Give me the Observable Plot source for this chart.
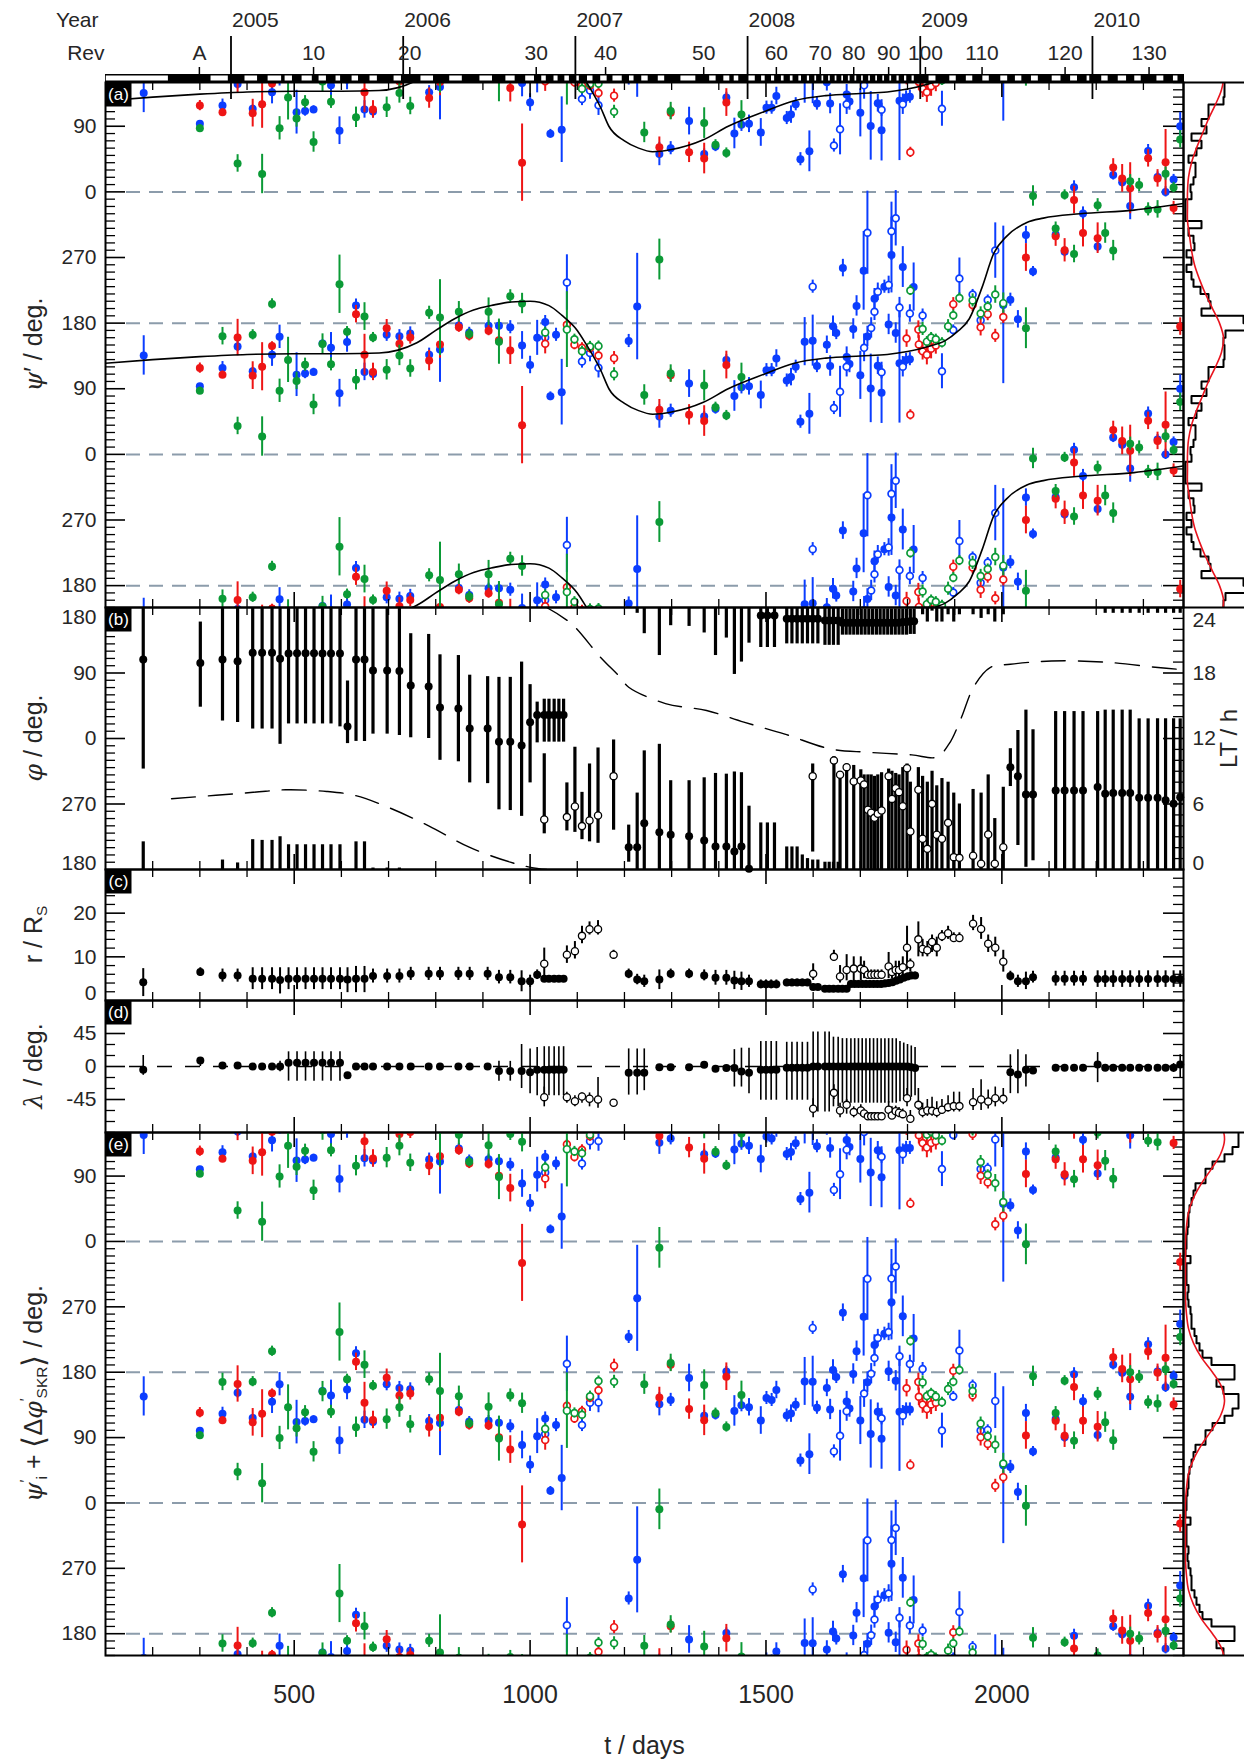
<!DOCTYPE html>
<html><head><meta charset="utf-8">
<script src="https://cdn.jsdelivr.net/npm/d3@7"></script>
<script src="https://cdn.jsdelivr.net/npm/@observablehq/plot@0.6"></script>
<style>
html,body{margin:0;padding:0;background:#fff;}
#root{position:relative;width:1244px;height:1762px;overflow:hidden;background:#fff;}
</style></head><body><div id="root"></div>
<script>
// ======================= DATA =======================
// top axis
const yearDays = [366, 731, 1096, 1461, 1827, 2192];
const yearLabels = ["2005", "2006", "2007", "2008", "2009", "2010"];
const revDays = [299, 541, 745, 1013, 1160, 1368, 1522, 1615, 1686, 1760, 1838, 1958, 2134, 2312];
const revLabels = ["A", "10", "20", "30", "40", "50", "60", "70", "80", "90", "100", "110", "120", "130"];
// white boxes of the orbit bar [start day, end day]
const orbitBoxes = [[100,235],[322,362],[394,424],[443,475],[479,498],[515,540],[551,570],[587,600],[621,638],[659,678],[710,729],[767,797],[828,858],[892,922],[947,970],[989,1011],[1023,1036],[1049,1061],[1072,1085],[1097,1106],[1120,1135],[1148,1165],[1174,1197],[1209,1222],[1235,1252],[1270,1287],[1318,1353],[1379,1396],[1409,1425],[1431,1444],[1461,1479],[1489,1500],[1510,1520],[1531,1540],[1550,1559],[1568,1577],[1586,1594],[1602,1609],[1617,1624],[1631,1638],[1645,1652],[1659,1666],[1673,1680],[1687,1694],[1701,1708],[1716,1723],[1731,1738],[1746,1753],[1761,1768],[1776,1784],[1792,1800],[1808,1816],[1844,1862],[1888,1905],[1923,1940],[1958,1975],[1996,2014],[2027,2044],[2061,2079],[2105,2127],[2144,2162],[2179,2188],[2210,2227],[2245,2266],[2280,2297],[2327,2345],[2362,2375]];

// panel (a)/(e): [day, psi' (deg), error half-width, psi'_i + <dphi'_SKR> (deg)]
const redFilled = [[300,118.3,7,124.3],[348,109.3,5,113.8],[380,160.2,25,163.8],[412,108,19,111],[432,120.2,33,122.9],[453,148.5,6,151],[631,192.3,12,194.3],[649,136.7,28,138.1],[667,113.1,12,114.3],[696,173,12,172.4],[723,151.8,12,148],[746,160.2,9,150.7],[786,128.7,14,104.7],[809,150.8,19,117.2],[849,174.4,7,125.7],[871,162.6,7,107.3],[912,169.7,7,106.7],[934,156.5,9,90.5],[958,142.3,19,73.5],[983,40.1,53,330.5],[1274,61.3,14,145.3],[1298,108.4,9,190.4],[1337,54.2,14,129.2],[1369,45.7,21,113.7],[1416,122.5,19,173.8],[2051,270,19,93],[2114,299.3,14,113.3],[2133,279.9,16,92.4],[2153,348.8,19,159.8],[2172,303.5,19,113.2],[2203,296.5,21,104.9],[2236,33.5,12,200.5],[2255,18.5,19,184.5],[2272,5,35,170.4],[2310,46,12,208.5],[2330,18.5,12,179.2],[2347,40.6,45,199.8],[2364,338,9,135.7],[2378,175.3,12,331.8]];
const redOpen = [[1032,151.8,14,86.6],[1078,177.7,7,133.7],[1094,150.4,7,116.4],[1110,146.1,7,126.1],[1127,146,7,145],[1145,135.7,7,155.1],[1178,132,9,189],[1798,158.8,12,158],[1806,54.2,7,52.4],[1823,171.1,12,166.5],[1824,150.8,12,146.2],[1832,141.4,12,135.4],[1841,136.7,14,129.2],[1850,145,14,135.7],[1860,149.4,12,137.9],[1897,206,9,182],[1938,205,9,148],[1955,174.4,12,90.4],[1970,192.3,9,81.3],[1986,162.6,9,23.6],[2003,188.5,9,35.5]];
const greenFilled = [[300,87.2,5,93.2],[348,162.1,12,166.6],[380,39,12,42.6],[412,164,7,167],[432,24.5,27,27.2],[453,206.4,7,208.9],[469,87.2,16,89.5],[487,129.6,31,131.6],[505,100.8,12,102.8],[523,123,9,125],[541,68.4,14,70.4],[560,151.3,14,153.3],[578,123.5,9,125.5],[596,233.3,40,235.3],[612,168.3,7,170.3],[631,102.3,14,104.3],[649,189,19,190.4],[667,160.2,7,161.4],[696,116,14,115.4],[723,135.7,14,131.9],[746,117.8,12,108.3],[786,194.2,9,170.2],[809,187.6,52,154],[849,195.6,14,146.9],[871,165,7,109.7],[912,195.6,19,132.6],[934,154.6,31,88.6],[958,216.8,9,148],[983,206.9,14,137.3],[1242,81.5,14,163.5],[1274,267.2,28,351.2],[1298,110.8,12,192.8],[1369,94.3,21,162.3],[1393,64.6,7,123.6],[1416,53.3,7,104.6],[1448,106.1,19,148.7],[2051,173,28,356],[2066,354.4,14,174.4],[2114,309.7,9,123.7],[2133,355.8,7,168.3],[2153,274.8,12,85.8],[2203,341.7,9,150.1],[2219,303.5,14,111.2],[2236,279.5,14,86.5],[2272,14.7,9,180.1],[2291,9.5,9,173.5],[2310,336,9,138.5],[2330,336,12,136.7],[2347,25,9,184.2],[2364,6,7,163.7],[2378,72,12,228.5]];
const greenOpen = [[1032,167.3,7,102.1],[1078,171.1,52,127.1],[1094,157.9,7,123.9],[1110,141.4,7,121.4],[1127,148,7,147],[1145,148.5,7,167.9],[1178,109.8,9,166.8],[1806,224.8,7,223],[1832,172,9,166],[1841,154.6,7,147.1],[1850,160.2,7,150.9],[1860,157.9,7,146.4],[1873,153,7,138.6],[1886,175.8,9,156.8],[1897,190.9,7,166.9],[1910,214.4,7,182.9],[1938,211.2,9,154.2],[1955,193.3,9,109.3],[1970,202.7,7,91.7],[1986,219.2,12,80.2],[2003,207.4,14,54.4]];
const blueFilled = [[181,135.7,27,146.7],[300,93.3,4,99.3],[348,118.3,9,122.8],[380,148,7,151.6],[412,114,5,117],[453,136.7,16,139.2],[469,161.2,16,163.5],[505,109.3,30,111.3],[523,110.8,7,112.8],[541,113.1,5,115.1],[560,152,5,154],[578,146.1,21,148.1],[596,83.9,19,85.9],[612,154.1,14,156.1],[631,204.1,9,206.1],[649,113.1,12,114.5],[667,110.3,9,111.5],[696,164,9,163.4],[723,162.1,9,158.3],[746,165.9,9,156.4],[786,136.7,9,112.7],[809,143.8,45,110.2],[849,176.7,7,128],[871,167.3,7,112],[912,176.3,7,113.3],[934,176.3,7,110.3],[958,174.4,9,105.6],[983,149.4,19,79.8],[1000,122.6,12,52.6],[1015,159.8,24,92],[1032,181.5,9,116.3],[1043,79.7,6,16.7],[1055,164,9,107.2],[1067,85.3,45,34.3],[1209,155.5,9,228.5],[1227,202.7,73,281.7],[1274,51.9,16,135.9],[1298,59.9,9,141.9],[1337,97.1,19,172.1],[1369,51.9,7,119.9],[1393,62.2,7,121.2],[1416,129.6,7,180.9],[1433,80.1,21,126.7],[1448,91.9,9,134.5],[1464,93.3,12,131.7],[1489,81.5,19,113.5],[1501,115.5,9,144.5],[1512,115.5,9,141.8],[1522,131.5,12,155.5],[1544,101.3,9,120.3],[1553,106,12,123],[1563,120.2,9,135.2],[1573,44.8,9,58.4],[1582,154.6,33,167.3],[1592,55.6,28,67.2],[1599,156,35,167],[1608,121.1,9,131.1],[1629,150.3,12,158.3],[1636,121.1,14,128.7],[1642,175.8,14,183.2],[1649,166.4,9,173.4],[1663,255.5,12,262],[1671,133.4,14,139.6],[1677,124,12,130],[1685,172,14,177.6],[1692,203.6,14,208.9],[1700,108.4,33,113.4],[1707,251.7,54,256.2],[1715,161.7,14,166.2],[1722,90.5,47,95],[1730,213.5,14,217.5],[1737,121.6,12,125.6],[1745,84.4,42,88.4],[1751,230,9,233],[1760,178.2,14,181.2],[1766,273.4,52,276.4],[1775,166.4,14,168.2],[1783,124.9,82,125.5],[1790,256.9,28,256.9],[1797,129.6,9,128.8],[1805,130.6,9,128.8],[1813,229.5,33,226.5],[2003,205,108,52],[2018,212.1,9,49.6],[2034,185.2,12,15.2],[2051,300.7,12,123.7],[2066,250.7,7,70.7],[2114,301.6,7,115.6],[2133,278,7,90.5],[2153,6.2,9,177.2],[2172,330.4,9,140.1],[2203,285,7,93.4],[2236,23.2,7,190.2],[2255,13.3,7,179.3],[2272,340.8,19,146.2],[2310,56,9,218.5],[2330,20.3,7,181],[2347,0,7,159.2],[2364,17,7,174.7],[2378,90,19,246.5]];
const blueOpen = [[1032,160.2,12,95],[1078,235.7,38,191.7],[1110,127.3,9,107.3],[1127,139,12,138],[1145,118.8,14,138.2],[1599,230,9,241],[1644,63.6,9,71],[1657,85.8,35,92.6],[1671,120.2,14,126.4],[1708,146.1,19,150.6],[1715,304,57,308.5],[1723,173.4,14,177.9],[1730,195.6,12,199.6],[1737,223,12,227],[1745,112.6,9,116.6],[1760,232.4,12,235.4],[1766,305.9,40,308.9],[1775,323.8,38,325.6],[1783,201.3,14,201.9],[1790,120.2,14,120.2],[1805,193.2,12,191.4],[1832,190.4,9,184.4],[1873,114,24,99.6],[1897,170.6,7,146.6],[1910,241.3,28,209.8],[1938,219.2,7,162.2],[1955,183.8,9,99.8],[1970,211.6,7,100.6],[1986,279.5,38,140.5]];

// model curve of panel (a)
const modelDay = [100,200,300,400,500,600,680,720,760,800,840,880,924,960,1000,1040,1067,1100,1117,1150,1167,1200,1230,1260,1300,1366,1420,1496,1560,1627,1700,1757,1800,1844,1880,1905,1931,1958,1983,2010,2053,2088,2166,2280,2384];
const modelPsi = [125,130,134,137,138,138,139,143,153,170,186,198,205,209,210,204,191,170,153,115,90,70,60,55,58,71,90,110,125,132,135,137,141,148,156,168,186,229,276,299,318,324,330,335,344];

// histograms (10 deg bins starting at 0,10,...,350) and fitted curves (sampled every 20 deg)
const histA = [7,10,12,12,5,13,18,8,23,18,25,25,40,41,41,40,42,62,60,18,27,25,17,10,8,3,8,3,11,10,5,18,2,2,2,8];
const histE = [3,4,5,5,6,8,10,12,22,22,29,41,49,55,55,40,33,51,51,28,19,16,13,11,8,8,7,5,4,5,3,3,3,7,2,3];
const fitPsi = [0,20,40,60,80,100,120,140,160,180,200,220,240,260,280,300,320,340];
const fitA = [4,5,8,13,19,25,32,38,40,36,29,22,16,11,8,6,4,4];
const fitE = [2,3,5,10,18,28,37,41,38,29,18,10,5,3,2,2,2,2];

// panel (b): [day, phi, lower end, upper end]
const phiFilled = [[180,108.6,-42,218],[301,103.7,43,160],[348,108.6,24,193],[380,106.3,22,189],[412,117.7,13,221],[432,117.7,13,220],[453,117.7,13,220],[470,109.6,-8,225],[488,116.8,20,214],[506,117,20,214],[524,117,20,214],[542,117,20,214],[560,116.8,20,214],[578,116.8,20,214],[597,116.8,16,214],[613,16.6,-7,79],[631,108.6,-4,218],[649,108.6,-4,218],[667,93.5,6,182],[697,93.5,6,182],[723,92.6,4,182],[747,72.9,1,144],[785,71.5,0,143],[809,42.6,-30,115],[848,41.2,-32,114],[872,13.8,-61,87],[910,13.8,-62,85],[934,-4.5,-98,84],[958,-4.5,-99,84],[982,-9.6,-107,105],[1000,22.2,-61,74],[1015,32.2,-6,50],[1030,32.2,-5,54],[1040,32.2,-5,54],[1051,32.2,-5,54],[1061,32.2,-5,54],[1071,32.2,-5,54],[1209,-149.3,-170,-119],[1227,-149.3,-188,-75],[1242,-116.3,-216,-17],[1274,-128.7,-246,-8],[1298,-132.3,-205,-58],[1337,-134.2,-206,-58],[1369,-140,-215,-54],[1393,-148.4,-246,-48],[1416,-148.4,-222,-49],[1433,-155.2,-272,-46],[1448,-148.4,-255,-47],[1464,-179,-229,-93],[1489,169,125,244],[1503,169,125,244],[1518,169,125,244],[1544,164.4,130,211],[1555,164.4,130,211],[1566,164.4,130,211],[1577,164.4,130,200],[1588,164.4,130,195],[1599,164.4,130,193],[1610,164.4,130,193],[1625,162,128,190],[1634,162,128,190],[1643,162,128,190],[1653,162,128,190],[1662,159,142,178],[1670,159,142,178],[1678,159,142,178],[1686,159,142,178],[1694,159,142,178],[1702,159,142,178],[1710,159,142,178],[1718,159,142,178],[1726,159,142,178],[1734,159,142,178],[1742,159,142,178],[1750,159,142,178],[1758,159,142,178],[1766,159,142,178],[1774,159,142,178],[1782,159,142,178],[1790,160,142,178],[1798,160,142,178],[1806,161,143,178],[1814,161,143,178],[2018,-39.4,-66,-14],[2034,-51.7,-147,11],[2051,-77,-177,39],[2066,-77,-168,12],[2114,-71.4,-180,37],[2133,-71.4,-180,37],[2153,-71.4,-180,37],[2172,-71.4,-180,37],[2203,-66.8,-180,37],[2219,-76,-188,39],[2236,-75,-188,39],[2255,-75,-188,39],[2272,-75,-188,39],[2291,-81.5,-188,27],[2310,-81.5,-188,27],[2330,-81.5,-188,27],[2347,-85,-188,27],[2364,-89.8,-188,27],[2378,-80.6,-188,27]];
const phiOpen = [[1030,-111.3,-131,-21],[1078,-108,-127,-61],[1095,-93.4,-129,-12],[1110,-120.4,-139,-74],[1126,-112.7,-142,-35],[1144,-105.8,-144,-13],[1177,-51.7,-126,-2],[1599,-51.7,-156,-35],[1644,-30.2,-180,-25],[1657,-49.9,-180,-46],[1671,-39.4,-180,-35],[1686,-59,-180,-37],[1701,-57.7,-180,-43],[1708,-63.2,-180,-50],[1716,-98,-180,-50],[1723,-102,-180,-50],[1730,-109,-180,-52],[1737,-103.5,-180,-50],[1745,-99,-180,-47],[1760,-51.7,-180,-42],[1767,-83,-180,-45],[1775,-68.2,-180,-48],[1782,-73.7,-180,-50],[1790,-93,-180,-40],[1799,-40.8,-180,-35],[1806,-127.8,-180,-60],[1823,-70.5,-180,-40],[1832,-137.8,-190,-52],[1842,-151.6,-200,-60],[1852,-89.8,-185,-45],[1862,-132.3,-200,-65],[1873,-137.8,-200,-55],[1886,-115.9,-190,-60],[1898,-163,-200,-75],[1910,-164,-190,-90],[1939,-161,-190,-70],[1956,-172,-195,-75],[1971,-131.9,-190,-50],[1985,-172,-200,-110],[2003,-149.3,-190,-67]];
// spacecraft local time track (hours)
const ltEarlyDay = [240,413,482,569,629,699,785,871,958,1001,1035];
const ltEarly = [6.48,7.07,7.3,7.15,6.78,5.7,4.0,2.04,0.67,0.2,0];
const ltLateDay = [1035,1088,1148,1191,1209,1287,1374,1453,1540,1636,1714,1809,1862,1888,1914,1940,1975,2018,2105,2218,2331,2384];
const ltLate = [24,22.5,19.5,17.6,16.7,15.2,14.56,13.5,12.4,11.05,10.74,10.5,10.3,11.5,13.9,16.7,18.5,18.8,19.1,19.0,18.5,18.3];

// panel (c): [day, r (R_S), lower, upper]
const rFilled = [[180,4.2,0.9,7.3],[301,6.5,5.5,7.5],[348,5.7,4.2,7.2],[380,5.7,4.2,7.2],[412,5,2.5,7.5],[432,5,2.5,7.5],[453,5,2.5,7.5],[470,4.7,1.5,7.5],[488,5,2.5,7.5],[506,5,2.5,7.5],[524,5,2.5,7.5],[542,5,2.5,7.5],[560,5,2.5,7.5],[578,5,2.5,7.5],[597,5,2.5,7.5],[613,4.8,1.8,7.5],[631,5,1.8,7.8],[649,5,1.8,7.8],[667,5.6,4,7.2],[697,5.6,4,7.2],[723,5.6,4,7.2],[747,6.1,4.6,7.6],[785,6.1,4.6,7.6],[809,6.1,4.6,7.6],[848,6.1,4.6,7.6],[872,6.1,4.6,7.6],[910,6.1,4.6,7.6],[934,5.3,3.8,6.9],[958,5.3,3.8,6.9],[982,4.4,2,6.8],[1000,4.4,3,5.8],[1015,5.9,4.8,7],[1030,5,4.5,5.5],[1040,5,4.5,5.5],[1051,5,4.5,5.5],[1061,5,4.5,5.5],[1071,5,4.5,5.5],[1209,6.1,5,7.2],[1227,4.8,3.6,6],[1242,4.4,3,5.8],[1274,4.8,2.5,7],[1298,6.1,5,7.2],[1337,6.1,5,7.2],[1369,5.7,4.5,7],[1393,5.2,3.5,6.9],[1416,5.2,3.5,6.9],[1433,4.6,2.5,6.7],[1448,4.4,2.3,6.5],[1464,4.4,3,5.8],[1489,3.7,2.7,4.7],[1500,3.7,2.7,4.7],[1511,3.7,2.7,4.7],[1522,3.7,2.7,4.7],[1544,4.1,3.3,4.9],[1555,4.1,3.3,4.9],[1566,4.1,3.3,4.9],[1577,4.1,3.3,4.9],[1588,4.1,3.3,4.9],[1600,3.1,2.5,3.7],[1610,3.1,2.5,3.7],[1625,2.7,2.2,3.2],[1634,2.7,2.2,3.2],[1643,2.7,2.2,3.2],[1653,2.7,2.2,3.2],[1662,2.7,2.2,3.2],[1671,2.7,2.2,3.2],[1680,3.8,3,4.6],[1688,3.8,3,4.6],[1696,3.8,3,4.6],[1704,3.8,3,4.6],[1712,3.8,3,4.6],[1720,3.8,3,4.6],[1728,3.8,3,4.6],[1736,3.8,3,4.6],[1744,3.8,3,4.6],[1752,3.9,3.1,4.7],[1760,4,3.2,4.8],[1768,4.2,3.4,5],[1776,4.5,3.7,5.3],[1784,4.8,4,5.6],[1792,5.2,4.4,6],[1800,5.5,4.7,6.3],[1808,5.7,4.9,6.5],[1816,5.7,4.9,6.5],[2018,5.6,4.5,6.7],[2034,4.4,3,5.8],[2051,4.4,2.5,6.5],[2066,5.3,4,6.7],[2114,5,3.3,6.7],[2133,5,3.3,6.7],[2153,5,3.3,6.7],[2172,5,3.3,6.7],[2203,4.9,3,6.8],[2219,4.9,3,6.8],[2236,4.9,3,6.8],[2255,4.9,3,6.8],[2272,4.9,3,6.8],[2291,4.9,3,6.8],[2310,4.9,3,6.8],[2330,4.9,3,6.8],[2347,4.9,3,6.8],[2364,4.9,3,6.8],[2378,4.9,3,6.8]];
const rOpen = [[1030,8.4,5,12],[1078,10.5,8.5,12.5],[1095,11.3,9.5,13.5],[1110,14.8,13,17],[1126,16.3,15,18],[1144,16.3,15,18.3],[1177,10.5,9.5,11.5],[1600,6.1,4.6,8.4],[1644,10,9,11.5],[1657,5.5,4,8],[1671,7,4.5,10.5],[1686,7.3,4,10],[1701,7.3,4.5,10],[1708,7,5,9],[1716,5.9,5,7],[1723,5.9,5,7],[1730,5.9,5,7],[1737,5.9,5,7],[1745,5.9,5,7],[1760,7.8,5,11],[1767,6.5,5,8],[1775,7,5,9],[1782,7,5,9],[1790,7.6,5,10],[1799,12.1,7,17],[1806,8.3,6.5,9.5],[1823,14,10,18],[1832,11.8,10,14],[1842,11.5,10,13.5],[1852,13.4,11,15],[1862,12.1,10,14.5],[1873,14.7,13.5,16],[1886,15.4,14,17],[1898,14.3,13.5,15.5],[1910,14.3,13.5,15.5],[1939,17.6,16,19.5],[1956,16.4,14,19],[1971,13,11,15],[1986,12.1,10,14.5],[2003,8.9,6.5,11.5]];

// panel (d): [day, lambda (deg), lower, upper]
const latFilled = [[180,-4.5,-12,15],[301,8.2,0,9],[348,1.4,-1,3],[380,1.4,-1,3],[412,0,-2,2],[432,0,-2,2],[453,0,-2,2],[470,0,-7,7],[488,5,-20,20],[506,5,-20,20],[524,5,-20,20],[542,5,-20,20],[560,5,-20,20],[578,5,-20,20],[597,5,-20,20],[613,-12,-14,-10],[631,0,-2,2],[649,0,-2,2],[667,0,-2,2],[697,0,-2,2],[723,0,-2,2],[747,0,-2,2],[785,0,-2,2],[809,0,-2,2],[848,0,-2,2],[872,0,-2,2],[910,0,-2,2],[934,-6.3,-20,7],[958,-6.3,-20,7],[982,-6.3,-30,30],[1000,-7.7,-37,24],[1015,-4.5,-40,26],[1030,-4.5,-40,27],[1040,-4.5,-40,27],[1051,-4.5,-40,27],[1061,-4.5,-40,27],[1071,-4.5,-40,27],[1209,-8.6,-39,24],[1227,-8.6,-39,24],[1242,-8.6,-33,24],[1274,-0.9,-2,1],[1298,-0.9,-2,1],[1337,-0.9,-2,1],[1369,2.3,0,4],[1393,-3.2,-5,-1],[1416,-2,-4,0],[1433,-2,-28,23],[1448,-6.8,-28,25],[1464,-8.6,-37,25],[1489,-4.5,-46,34],[1500,-4.5,-46,34],[1511,-4.5,-46,34],[1522,-4.5,-46,34],[1544,-1.8,-46,33],[1555,-1.8,-46,33],[1566,-1.8,-46,33],[1577,-1.8,-46,33],[1588,-1.8,-46,33],[1600,0,-62,47],[1610,0,-62,47],[1625,0,-62,47],[1634,0,-62,47],[1643,0,-55,40],[1653,0,-55,40],[1662,0,-50,38],[1671,0,-50,38],[1680,0,-50,38],[1688,0,-50,38],[1696,0,-50,38],[1704,0,-50,38],[1712,0,-50,38],[1720,0,-50,38],[1728,0,-50,38],[1736,0,-50,38],[1744,0,-50,38],[1752,0,-50,38],[1760,0,-50,38],[1768,0,-50,38],[1776,0,-50,38],[1784,0,-48,34],[1792,0,-46,32],[1800,0,-44,30],[1808,-1,-42,28],[1816,-2,-40,26],[2018,-7.7,-37,16],[2034,-10.9,-37,23],[2051,-4.5,-28,16],[2066,-5.4,-10,0],[2114,-1.8,-4,1],[2133,-1.8,-4,1],[2153,-1.8,-4,1],[2172,-1.8,-4,1],[2203,2.7,-22,19],[2219,-1.8,-4,1],[2236,-1.8,-4,1],[2255,-1.8,-4,1],[2272,-1.8,-4,1],[2291,-1.8,-4,1],[2310,-1.8,-4,1],[2330,-1.8,-4,1],[2347,-1.8,-4,1],[2364,-1.8,-8,4],[2378,2.7,-16,16]];
const latOpen = [[1030,-41.8,-55,-28],[1078,-41.8,-50,-35],[1095,-47.3,-55,-40],[1110,-41,-50,-36],[1126,-44,-55,-36],[1144,-45,-57,-15],[1177,-49.5,-53,-45],[1600,-57.7,-70,-44],[1644,-35.9,-45,-25],[1657,-60,-70,-50],[1671,-52.3,-65,-45],[1686,-62.2,-70,-55],[1701,-60,-68,-52],[1708,-64,-70,-58],[1716,-68,-73,-63],[1723,-68,-73,-63],[1730,-68,-73,-63],[1737,-68,-73,-63],[1745,-68,-73,-63],[1760,-59,-70,-48],[1767,-66.8,-72,-55],[1775,-61,-68,-54],[1782,-63,-70,-56],[1790,-65,-71,-58],[1799,-43.2,-55,-30],[1806,-71.3,-75,-60],[1823,-52.3,-60,-30],[1832,-62.2,-70,-50],[1842,-60,-68,-45],[1852,-60.5,-68,-42],[1862,-62,-70,-48],[1873,-59,-65,-45],[1886,-55.4,-62,-40],[1898,-54,-62,-35],[1910,-54,-62,-35],[1939,-48.6,-60,-30],[1956,-45,-60,-18],[1971,-47.7,-58,-32],[1986,-43.2,-55,-28],[2003,-44.1,-52,-30]];

// axis tick values
const xMinor = [200,300,400,600,700,800,900,1100,1200,1300,1400,1600,1700,1800,1900,2100,2200,2300];
const xMajor = [500, 1000, 1500, 2000];

// ======================= LAYOUT / STYLE =======================
const root = document.getElementById("root");
const FONT = "'Liberation Sans', Arial, Helvetica, sans-serif";
const W = 1244, X0 = 105, X1 = 1183, FW = X1 - X0;
const XD = [100, 2385];
const COL = {r: "#ee1515", g: "#0b9a36", b: "#0b3dff"};
const INK = "#000", TXT = "#262626", GRID = "#8c9cab";
const PSI_D = [-570, 150];
const wrapShifts = [0, -360, -720];

function place(svg, left, top) {
  svg.style.position = "absolute";
  svg.style.left = left + "px";
  svg.style.top = top + "px";
  svg.style.maxWidth = "none";
  root.appendChild(svg);
  return svg;
}
function panel({top, bottom, mt = 0, mb = 0, yDomain, marks}) {
  const h = bottom - top;
  const svg = Plot.plot({
    width: W, height: h + mt + mb, marginLeft: X0, marginRight: W - X1, marginTop: mt, marginBottom: mb,
    x: {domain: XD, axis: null}, y: {domain: yDomain, axis: null},
    style: {overflow: "visible", background: "transparent", fontFamily: FONT},
    marks
  });
  return place(svg, 0, top - mt);
}
function xTicks(h) {
  return [
    Plot.ruleX(xMinor, {insetBottom: h - 8, stroke: INK, strokeWidth: 1.3}),
    Plot.ruleX(xMinor, {insetTop: h - 8, stroke: INK, strokeWidth: 1.3}),
    Plot.ruleX(xMajor, {insetBottom: h - 15, stroke: INK, strokeWidth: 1.6}),
    Plot.ruleX(xMajor, {insetTop: h - 15, stroke: INK, strokeWidth: 1.6})
  ];
}
function yTicks(minorL, majorL, minorR, majorR) {
  return [
    Plot.ruleY(minorL, {insetRight: FW - 10, stroke: INK, strokeWidth: 1.3}),
    Plot.ruleY(majorL, {insetRight: FW - 20, stroke: INK, strokeWidth: 1.6}),
    Plot.ruleY(minorR, {insetLeft: FW - 10, stroke: INK, strokeWidth: 1.3}),
    Plot.ruleY(majorR, {insetLeft: FW - 20, stroke: INK, strokeWidth: 1.6})
  ];
}
function tag(label, h) {
  return [
    Plot.frame({fill: INK, stroke: "none", insetRight: FW - 26, insetBottom: h - 24}),
    Plot.text([label], {text: d => d, frameAnchor: "top-left", dx: 13, dy: 12, textAnchor: "middle", lineAnchor: "middle", fill: "white", fontSize: 17})
  ];
}
function yLabels(vals, fmt, opts = {}) {
  return Plot.text(vals, {y: d => d, text: fmt, frameAnchor: "left", dx: -9, textAnchor: "end", lineAnchor: "middle", fontSize: 21, fill: TXT, ...opts});
}
function rich(svg, x, y, parts, size, rotate = -90) {
  const t = d3.select(svg).append("text")
    .attr("transform", `translate(${x},${y}) rotate(${rotate})`)
    .attr("text-anchor", "middle").attr("dominant-baseline", "central")
    .attr("font-family", FONT).attr("font-size", size).attr("fill", TXT);
  let shift = 0;
  for (const p of parts) {
    const target = p.sub ? 0.3 * size : p.sup ? -0.35 * size : 0;
    const ts = t.append("tspan").text(p.t);
    if (target - shift !== 0) ts.attr("dy", target - shift);
    shift = target;
    if (p.sub || p.sup) ts.attr("font-size", size * 0.62);
    if (p.it) ts.attr("font-style", "italic").attr("font-family", "'DejaVu Serif', serif");
    if (p.big) ts.attr("font-size", size * 1.25);
  }
  return t;
}

// ----- helpers for wrapped phase data -----
const mod360 = v => ((v % 360) + 360) % 360;
function expandPsi(rows, col) {
  return rows.flatMap(r => {
    const p = mod360(r[col]);
    return wrapShifts.map(s => ({t: r[0], y: p + s, lo: p + s - r[2], hi: p + s + r[2]}));
  });
}
function psiMarks(col) {
  const groups = [[blueFilled, COL.b, false], [blueOpen, COL.b, true], [redFilled, COL.r, false],
                  [redOpen, COL.r, true], [greenFilled, COL.g, false], [greenOpen, COL.g, true]];
  return groups.flatMap(([rows, c, open]) => {
    const d = expandPsi(rows, col);
    return [
      Plot.ruleX(d, {x: "t", y1: "lo", y2: "hi", stroke: c, strokeWidth: 2, clip: true}),
      open ? Plot.dot(d, {x: "t", y: "y", r: 3.4, fill: "white", stroke: c, strokeWidth: 1.7, clip: true})
           : Plot.dot(d, {x: "t", y: "y", r: 4, fill: c, stroke: "none", clip: true})
    ];
  });
}
const psiMinor = d3.range(-570, 151, 10).filter(v => v % 90 !== 0);
const psiMajor = d3.range(-540, 91, 90);
function psiAxis(h) {
  return [
    Plot.ruleY([0, -180, -360, -540], {stroke: GRID, strokeWidth: 2, strokeDasharray: "14,9", insetLeft: 21, insetRight: 21}),
    ...yTicks(psiMinor, psiMajor, psiMinor, psiMajor),
    yLabels(psiMajor, d => String(mod360(d)))
  ];
}
function histRows(counts) {
  const rows = [];
  for (let b = 150; b > -570; b -= 10) {
    const c = counts[mod360(b - 10) / 10];
    rows.push({c, y: b}, {c, y: b - 10});
  }
  return rows;
}
function fitRows(vals) {
  const rows = [];
  for (const s of [360, 0, -360, -720]) fitPsi.forEach((p, i) => rows.push({c: vals[i], y: p + s}));
  return rows.sort((a, b) => b.y - a.y);
}
function histPanel(top, bottom, counts, fit) {
  const svg = Plot.plot({
    width: 80, height: bottom - top, marginLeft: 0, marginRight: 0, marginTop: 0, marginBottom: 0,
    x: {domain: [0, 80], axis: null}, y: {domain: PSI_D, axis: null},
    style: {overflow: "visible", background: "transparent"},
    marks: [
      Plot.line(histRows(counts), {x: "c", y: "y", stroke: INK, strokeWidth: 2, curve: "linear", clip: true}),
      Plot.line(fitRows(fit), {x: "c", y: "y", stroke: "#e8141e", strokeWidth: 1.6, curve: "catmull-rom", clip: true}),
      Plot.frame({stroke: INK, strokeWidth: 2})
    ]
  });
  return place(svg, X1, top);
}
function wrapSegs(rows) {
  const out = [];
  for (const [t, , lo, hi] of rows) for (const k of [-360, 0, 360]) {
    const a = Math.max(lo + k, -180), b = Math.min(hi + k, 180);
    if (b > a) out.push({t, y1: a, y2: b});
  }
  return out;
}
const asObj = rows => rows.map(([t, v, lo, hi]) => ({t, v, lo, hi}));
const mid = {textAnchor: "middle", lineAnchor: "middle"};

// ======================= PANEL (a) + top axis =======================
{
  const top = 82, bottom = 607, h = bottom - top;
  const modelRows = wrapShifts.flatMap(s => modelDay.map((t, i) => ({t, y: modelPsi[i] + s, s})));
  const svg = panel({top, bottom, mt: 82, yDomain: PSI_D, marks: [
    ...psiAxis(h),
    ...psiMarks(1),
    Plot.line(modelRows, {x: "t", y: "y", z: "s", stroke: INK, strokeWidth: 1.6, curve: "monotone-x", clip: true}),
    ...xTicks(h),
    // orbit bar
    Plot.frame({fill: INK, stroke: INK, strokeWidth: 1, insetTop: -8, insetBottom: h}),
    Plot.rect(orbitBoxes, {x1: d => d[0], x2: d => d[1], fill: "white", insetTop: -6.5, insetBottom: h + 1.5, insetLeft: 0.8, insetRight: 0.8}),
    Plot.ruleX(revDays, {insetTop: -15, insetBottom: h + 8, stroke: INK, strokeWidth: 1.5}),
    Plot.ruleX(yearDays, {insetTop: -46, insetBottom: h - 17, stroke: INK, strokeWidth: 1.8}),
    Plot.text(yearDays, {x: d => d, text: (d, i) => yearLabels[i], frameAnchor: "top", dy: -62, dx: 1, textAnchor: "start", lineAnchor: "middle", fontSize: 21, fill: TXT}),
    Plot.text(revDays, {x: d => d, text: (d, i) => revLabels[i], frameAnchor: "top", dy: -29, ...mid, fontSize: 21, fill: TXT}),
    Plot.text(["Year"], {text: d => d, frameAnchor: "top-left", dx: -7, dy: -62, textAnchor: "end", lineAnchor: "middle", fontSize: 21, fill: TXT}),
    Plot.text(["Rev"], {text: d => d, frameAnchor: "top-left", dx: -1, dy: -29, textAnchor: "end", lineAnchor: "middle", fontSize: 21, fill: TXT}),
    Plot.frame({stroke: INK, strokeWidth: 2}),
    ...tag("(a)", h)
  ]});
  rich(svg, 33, 82 + h / 2, [{t: "ψ", it: true}, {t: "′ / deg."}], 25);
  histPanel(top, bottom, histA, fitA);
}

// ======================= PANEL (b) =======================
{
  const top = 607, bottom = 869, h = bottom - top;
  const segF = wrapSegs(phiFilled), segO = wrapSegs(phiOpen);
  const track = [
    ...ltEarlyDay.map((t, i) => ({t, y: ltEarly[i] * 15 - 180, s: 0})),
    ...ltLateDay.map((t, i) => ({t, y: ltLate[i] * 15 - 180, s: 1}))
  ];
  const rl = {frameAnchor: "right", dx: 9, textAnchor: "start", lineAnchor: "middle", fontSize: 21, fill: TXT};
  const svg = panel({top, bottom, yDomain: [-180, 180], marks: [
    Plot.line(track, {x: "t", y: "y", z: "s", stroke: INK, strokeWidth: 1.4, strokeDasharray: "24,13", curve: "catmull-rom", clip: true}),
    Plot.ruleX(segF, {x: "t", y1: "y1", y2: "y2", stroke: INK, strokeWidth: 3.2}),
    Plot.ruleX(segO, {x: "t", y1: "y1", y2: "y2", stroke: INK, strokeWidth: 3.2}),
    Plot.dot(asObj(phiFilled), {x: "t", y: "v", r: 4, fill: INK, stroke: "none"}),
    Plot.dot(asObj(phiOpen), {x: "t", y: "v", r: 3.6, fill: "white", stroke: INK, strokeWidth: 1.3}),
    ...yTicks(d3.range(-170, 180, 10).filter(v => v % 90 !== 0), [-90, 0, 90],
              d3.range(-165, 180, 15).filter(v => v % 90 !== 0), [-90, 0, 90]),
    ...xTicks(h),
    yLabels([90, 0, -90], d => String(mod360(d))),
    yLabels([180], () => "180", {dy: 10}),
    yLabels([-180], () => "180", {dy: -6}),
    Plot.text([-90, 0, 90], {y: d => d, text: d => String((d + 180) / 15), ...rl}),
    Plot.text([180], {y: d => d, text: () => "24", ...rl, dy: 13}),
    Plot.text([-180], {y: d => d, text: () => "0", ...rl, dy: -6}),
    Plot.text(["LT / h"], {text: d => d, frameAnchor: "right", dx: 46, rotate: -90, ...mid, fontSize: 24, fill: TXT}),
    Plot.frame({stroke: INK, strokeWidth: 2}),
    ...tag("(b)", h)
  ]});
  rich(svg, 33, h / 2, [{t: "φ", it: true}, {t: " / deg."}], 25);
}

// ======================= PANEL (c) =======================
{
  const top = 869, bottom = 1000, h = bottom - top;
  const minor = d3.range(2, 30, 2).filter(v => v % 10 !== 0);
  const svg = panel({top, bottom, yDomain: [0, 30], marks: [
    Plot.ruleX(asObj(rFilled), {x: "t", y1: "lo", y2: "hi", stroke: INK, strokeWidth: 2}),
    Plot.ruleX(asObj(rOpen), {x: "t", y1: "lo", y2: "hi", stroke: INK, strokeWidth: 2}),
    Plot.dot(asObj(rFilled), {x: "t", y: "v", r: 4, fill: INK, stroke: "none"}),
    Plot.dot(asObj(rOpen), {x: "t", y: "v", r: 3.6, fill: "white", stroke: INK, strokeWidth: 1.3}),
    ...yTicks(minor, [10, 20], minor, [10, 20]),
    ...xTicks(h),
    yLabels([10, 20], d => String(d)),
    yLabels([0], () => "0", {dy: -7}),
    Plot.frame({stroke: INK, strokeWidth: 2}),
    ...tag("(c)", h)
  ]});
  rich(svg, 33, h / 2, [{t: "r / R"}, {t: "S", sub: true}], 25);
}

// ======================= PANEL (d) =======================
{
  const top = 1000, bottom = 1132, h = bottom - top;
  const minor = d3.range(-75, 90, 15).filter(v => v % 45 !== 0);
  const svg = panel({top, bottom, yDomain: [-90, 90], marks: [
    Plot.ruleY([0], {stroke: INK, strokeWidth: 1.5, strokeDasharray: "15,13", insetLeft: 24}),
    Plot.ruleX(asObj(latFilled), {x: "t", y1: "lo", y2: "hi", stroke: INK, strokeWidth: 1.6}),
    Plot.ruleX(asObj(latOpen), {x: "t", y1: "lo", y2: "hi", stroke: INK, strokeWidth: 1.6}),
    Plot.dot(asObj(latFilled), {x: "t", y: "v", r: 4, fill: INK, stroke: "none"}),
    Plot.dot(asObj(latOpen), {x: "t", y: "v", r: 3.6, fill: "white", stroke: INK, strokeWidth: 1.3}),
    ...yTicks(minor, [-45, 0, 45], minor, [-45, 0, 45]),
    ...xTicks(h),
    yLabels([45, 0, -45], d => String(d)),
    Plot.frame({stroke: INK, strokeWidth: 2}),
    ...tag("(d)", h)
  ]});
  rich(svg, 33, h / 2, [{t: "λ", it: true}, {t: " / deg."}], 25);
}

// ======================= PANEL (e) =======================
{
  const top = 1132, bottom = 1655, h = bottom - top;
  const svg = panel({top, bottom, mb: 107, yDomain: PSI_D, marks: [
    ...psiAxis(h),
    ...psiMarks(3),
    ...xTicks(h),
    Plot.text(xMajor, {x: d => d, text: d => String(d), frameAnchor: "bottom", dy: 39, ...mid, fontSize: 25, fill: TXT}),
    Plot.text(["t / days"], {text: d => d, frameAnchor: "bottom", dy: 90, ...mid, fontSize: 25, fill: TXT}),
    Plot.frame({stroke: INK, strokeWidth: 2}),
    ...tag("(e)", h)
  ]});
  rich(svg, 33, h / 2, [
    {t: "ψ", it: true}, {t: "′", sup: true}, {t: "i", sub: true}, {t: " + "}, {t: "⟨", big: true},
    {t: "Δ"}, {t: "φ", it: true}, {t: "′", sup: true}, {t: "SKR", sub: true}, {t: "⟩", big: true}, {t: " / deg."}
  ], 25);
  histPanel(top, bottom, histE, fitE);
}
</script></body></html>
